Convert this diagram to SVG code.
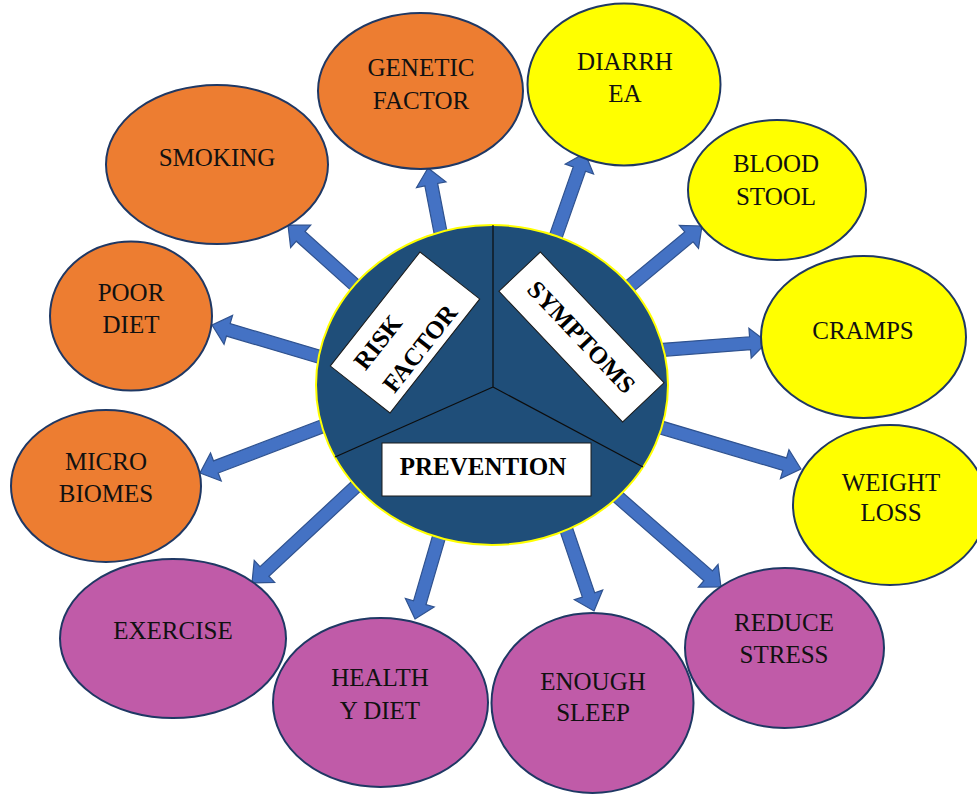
<svg xmlns="http://www.w3.org/2000/svg" width="977" height="794" viewBox="0 0 977 794">
  <style>
    .arr { fill: #4472C4; stroke: #2F528F; stroke-width: 1.2; stroke-linejoin: miter; }
    .node ellipse { stroke: #1F3864; stroke-width: 2; }
    .orange ellipse { fill: #ED7D31; }
    .yellow ellipse { fill: #FFFF00; }
    .purple ellipse { fill: #C05BA8; }
    .lbl { font-family: "Liberation Serif", "Times New Roman", serif; font-size: 25px; fill: #111; text-anchor: middle; }
    .hubtxt { font-family: "Liberation Serif", "Times New Roman", serif; font-size: 25px; font-weight: bold; fill: #000; }
    .tag { fill: #FFFFFF; stroke: #1a1a1a; stroke-width: 1; }
    .divider { stroke: #0d0d0d; stroke-width: 1.2; fill: none; }
  </style>

  <!-- block arrows from the hub to each outer node (tip at origin, pointing +x) -->
  <g id="connectors">
    <path class="arr" transform="translate(428,168) rotate(-101)" d="M0,0 L-17,-15 L-17,-6.5 L-78,-6.5 L-78,6.5 L-17,6.5 L-17,15 Z"/>
    <path class="arr" transform="translate(585,153) rotate(-70.7)" d="M0,0 L-17,-15 L-17,-6.5 L-103,-6.5 L-103,6.5 L-17,6.5 L-17,15 Z"/>
    <path class="arr" transform="translate(702,226) rotate(-39.7)" d="M0,0 L-17,-15 L-17,-6.5 L-107,-6.5 L-107,6.5 L-17,6.5 L-17,15 Z"/>
    <path class="arr" transform="translate(767,342) rotate(-4.3)" d="M0,0 L-17,-15 L-17,-6.5 L-107,-6.5 L-107,6.5 L-17,6.5 L-17,15 Z"/>
    <path class="arr" transform="translate(801,469) rotate(16.5)" d="M0,0 L-17,-15 L-17,-6.5 L-152,-6.5 L-152,6.5 L-17,6.5 L-17,15 Z"/>
    <path class="arr" transform="translate(721,587) rotate(41.1)" d="M0,0 L-17,-15 L-17,-6.5 L-147,-6.5 L-147,6.5 L-17,6.5 L-17,15 Z"/>
    <path class="arr" transform="translate(594,611) rotate(71.2)" d="M0,0 L-17,-15 L-17,-6.5 L-96,-6.5 L-96,6.5 L-17,6.5 L-17,15 Z"/>
    <path class="arr" transform="translate(415,619) rotate(106.3)" d="M0,0 L-17,-15 L-17,-6.5 L-103,-6.5 L-103,6.5 L-17,6.5 L-17,15 Z"/>
    <path class="arr" transform="translate(252,583) rotate(137.1)" d="M0,0 L-17,-15 L-17,-6.5 L-154,-6.5 L-154,6.5 L-17,6.5 L-17,15 Z"/>
    <path class="arr" transform="translate(200,473) rotate(159.1)" d="M0,0 L-17,-15 L-17,-6.5 L-145,-6.5 L-145,6.5 L-17,6.5 L-17,15 Z"/>
    <path class="arr" transform="translate(212,325) rotate(-163.5)" d="M0,0 L-17,-15 L-17,-6.5 L-128,-6.5 L-128,6.5 L-17,6.5 L-17,15 Z"/>
    <path class="arr" transform="translate(288,225) rotate(-138.1)" d="M0,0 L-17,-15 L-17,-6.5 L-103,-6.5 L-103,6.5 L-17,6.5 L-17,15 Z"/>
  </g>

  <!-- risk factors -->
  <g id="n-smoking" class="node orange">
    <ellipse cx="217" cy="164.5" rx="111" ry="79.5"/>
    <text class="lbl" x="217" y="165.5">SMOKING</text>
  </g>
  <g id="n-genetic" class="node orange">
    <ellipse cx="420.5" cy="91" rx="102.5" ry="78"/>
    <text class="lbl" x="421" y="75.5">GENETIC</text>
    <text class="lbl" x="421" y="108.5">FACTOR</text>
  </g>
  <g id="n-poordiet" class="node orange">
    <ellipse cx="131" cy="316" rx="81" ry="74.5"/>
    <text class="lbl" x="131" y="300.5">POOR</text>
    <text class="lbl" x="131" y="332.5">DIET</text>
  </g>
  <g id="n-microbiomes" class="node orange">
    <ellipse cx="106" cy="486" rx="95" ry="76"/>
    <text class="lbl" x="106" y="469.5">MICRO</text>
    <text class="lbl" x="106" y="501.5">BIOMES</text>
  </g>

  <!-- symptoms -->
  <g id="n-diarrhea" class="node yellow">
    <ellipse cx="624" cy="84.5" rx="96.5" ry="81"/>
    <text class="lbl" x="625" y="69.5">DIARRH</text>
    <text class="lbl" x="625" y="101.5">EA</text>
  </g>
  <g id="n-blood" class="node yellow">
    <ellipse cx="777" cy="190" rx="89" ry="70"/>
    <text class="lbl" x="776" y="171.5">BLOOD</text>
    <text class="lbl" x="776" y="204.5">STOOL</text>
  </g>
  <g id="n-cramps" class="node yellow">
    <ellipse cx="863.5" cy="337" rx="102.5" ry="81"/>
    <text class="lbl" x="863" y="339">CRAMPS</text>
  </g>
  <g id="n-weight" class="node yellow">
    <ellipse cx="890" cy="505" rx="97" ry="80"/>
    <text class="lbl" x="891" y="490.5">WEIGHT</text>
    <text class="lbl" x="891" y="520.5">LOSS</text>
  </g>

  <!-- prevention -->
  <g id="n-stress" class="node purple">
    <ellipse cx="784.5" cy="648" rx="99.5" ry="80"/>
    <text class="lbl" x="784" y="631">REDUCE</text>
    <text class="lbl" x="784" y="663">STRESS</text>
  </g>
  <g id="n-sleep" class="node purple">
    <ellipse cx="592.5" cy="703" rx="101" ry="90"/>
    <text class="lbl" x="593" y="690">ENOUGH</text>
    <text class="lbl" x="593" y="721">SLEEP</text>
  </g>
  <g id="n-healthy" class="node purple">
    <ellipse cx="380.5" cy="702.5" rx="107.5" ry="84.5"/>
    <text class="lbl" x="380" y="686">HEALTH</text>
    <text class="lbl" x="380" y="718.5">Y DIET</text>
  </g>
  <g id="n-exercise" class="node purple">
    <ellipse cx="173" cy="638.5" rx="113" ry="79.5"/>
    <text class="lbl" x="173" y="638.5">EXERCISE</text>
  </g>

  <!-- central hub split into three sectors -->
  <g id="hub">
    <ellipse cx="492" cy="385" rx="176" ry="160" fill="#1F4E79" stroke="#FFFF00" stroke-width="2"/>
    <path class="divider" d="M493,387 L493,225 M493,387 L335,457 M493,387 L643,467"/>
    <g transform="translate(405,332.5) rotate(-51.8)">
      <rect class="tag" x="-72.5" y="-38" width="145" height="76"/>
      <text class="hubtxt" x="-55" y="-7">RISK</text>
      <text class="hubtxt" x="-55" y="30">FACTOR</text>
    </g>
    <g transform="translate(581.5,337) rotate(46.6)">
      <rect class="tag" x="-90" y="-28.5" width="180" height="57"/>
      <text class="hubtxt" x="0" y="8.5" text-anchor="middle">SYMPTOMS</text>
    </g>
    <rect class="tag" x="382" y="443" width="209" height="53"/>
    <text class="hubtxt" x="483" y="475" text-anchor="middle">PREVENTION</text>
  </g>
</svg>
